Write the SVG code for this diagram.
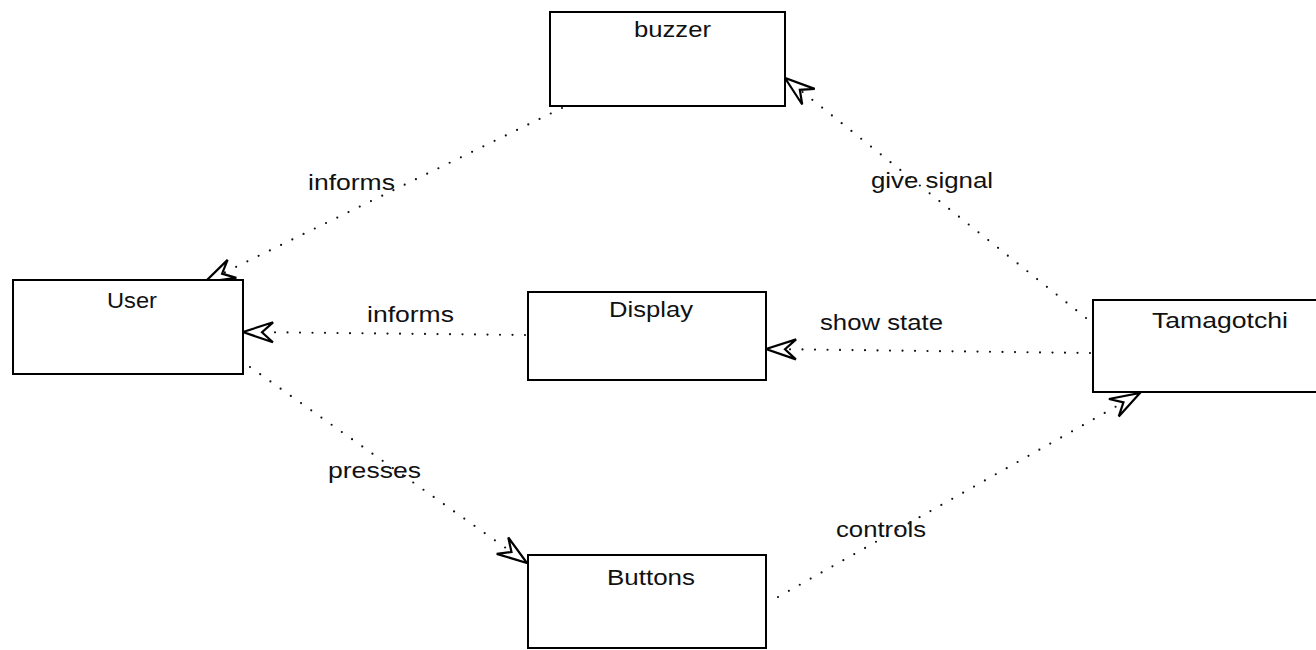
<svg xmlns="http://www.w3.org/2000/svg" width="1316" height="650" viewBox="0 0 1316 650">
<style>
.box{fill:#fff;stroke:#000;stroke-width:2}
.lbl{font-family:"Liberation Sans",Arial,sans-serif;font-size:22px;fill:#111}
.dep{fill:none;stroke:#111;stroke-width:2.2;stroke-linecap:round;stroke-dasharray:0 12.5;marker-end:url(#arr)}
</style>
<defs>
<marker id="arr" markerUnits="userSpaceOnUse" markerWidth="40" markerHeight="30" viewBox="-34 -15 40 30" refX="0" refY="0" orient="auto" overflow="visible">
<path d="M-30,-10 L0,0 L-30,10 L-19,0 Z" fill="#fff" stroke="#000" stroke-width="2.2" stroke-linejoin="miter" stroke-dasharray="none"/>
</marker>
</defs>
<rect width="1316" height="650" fill="#fff"/>
<g id="connectors">
<path class="dep" d="M562,108 L205,282"/>
<path class="dep" d="M525,335 L243,332"/>
<path class="dep" d="M1090,353 L766,349"/>
<path class="dep" d="M1086,318 L785,78"/>
<path class="dep" d="M250,367 L527,563"/>
<path class="dep" d="M778,597 L1140,393"/>
<text class="lbl" x="308" y="190" textLength="87" lengthAdjust="spacingAndGlyphs">informs</text>
<text class="lbl" x="367" y="322" textLength="87" lengthAdjust="spacingAndGlyphs">informs</text>
<text class="lbl" x="871" y="188" textLength="122" lengthAdjust="spacingAndGlyphs">give signal</text>
<text class="lbl" x="820" y="330" textLength="123" lengthAdjust="spacingAndGlyphs">show state</text>
<text class="lbl" x="328" y="478" textLength="93" lengthAdjust="spacingAndGlyphs">presses</text>
<text class="lbl" x="836" y="537" textLength="90" lengthAdjust="spacingAndGlyphs">controls</text>
</g>
<g id="buzzer">
<rect class="box" x="550" y="12" width="235" height="94"/>
<text class="lbl" x="634" y="37" textLength="77" lengthAdjust="spacingAndGlyphs">buzzer</text>
</g>
<g id="user">
<rect class="box" x="13" y="280" width="230" height="94"/>
<text class="lbl" x="107" y="308" textLength="50" lengthAdjust="spacingAndGlyphs">User</text>
</g>
<g id="display">
<rect class="box" x="528" y="292" width="238" height="88"/>
<text class="lbl" x="609" y="317" textLength="84" lengthAdjust="spacingAndGlyphs">Display</text>
</g>
<g id="tamagotchi">
<rect class="box" x="1093" y="300" width="260" height="92"/>
<text class="lbl" x="1152" y="328" textLength="136" lengthAdjust="spacingAndGlyphs">Tamagotchi</text>
</g>
<g id="buttons">
<rect class="box" x="528" y="555" width="238" height="93"/>
<text class="lbl" x="607" y="585" textLength="88" lengthAdjust="spacingAndGlyphs">Buttons</text>
</g>
</svg>
